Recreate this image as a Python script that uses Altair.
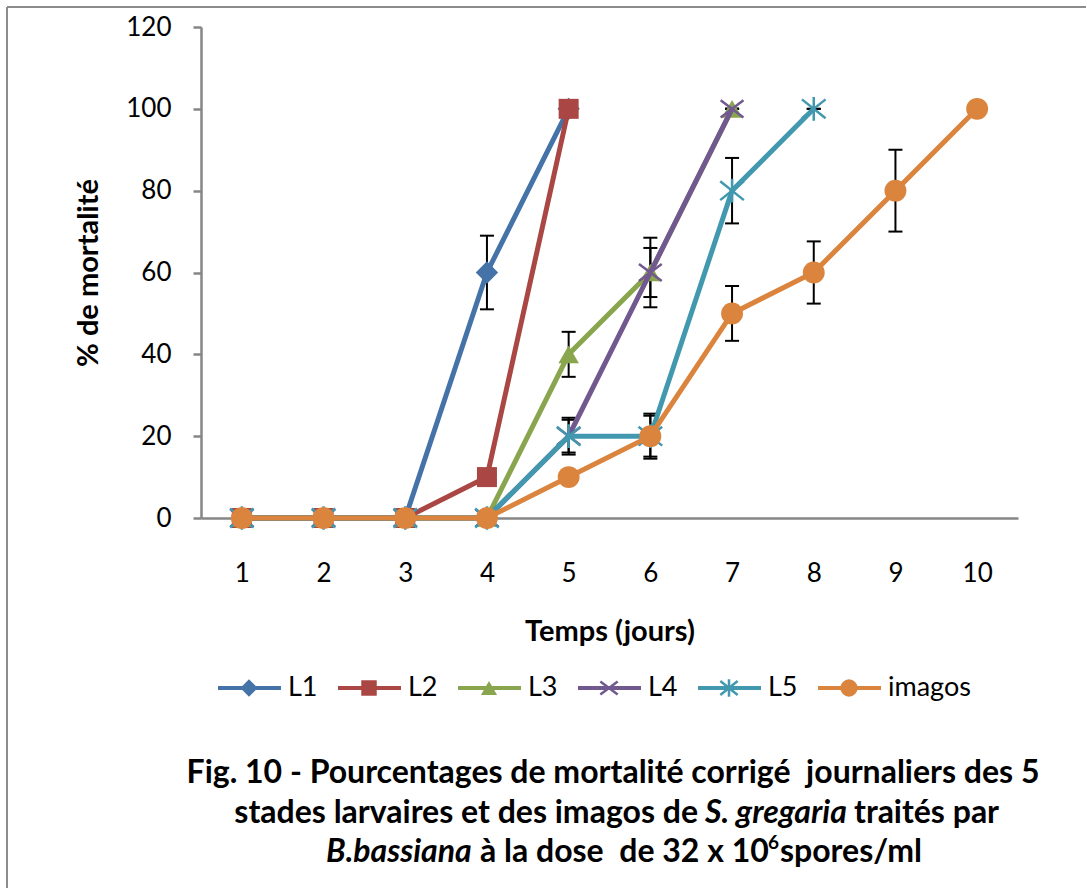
import altair as alt
import pandas as pd

# ---------------- data ----------------
days = [1, 2, 3, 4, 5, 6, 7, 8, 9, 10]
series_names = ["L1", "L2", "L3", "L4", "L5", "imagos"]

L1 = [0, 0, 0, 60, 100]
L2 = [0, 0, 0, 10, 100]
L3 = [0, 0, 0, 0, 40, 60, 100]
L4 = [0, 0, 0, 0, 20, 60, 100]
L5 = [0, 0, 0, 0, 20, 20, 80, 100]
imagos = [0, 0, 0, 0, 10, 20, 50, 60, 80, 100]

L1_err = [0, 0, 0, 9, 0]
L2_err = [0, 0, 0, 0, 0]
L3_err = [0, 0, 0, 0, 5.5, 6, 0]
L4_err = [0, 0, 0, 0, 4, 8.5, 0]
L5_err = [0, 0, 0, 0, 4.5, 5.5, 8, 0]
imagos_err = [0, 0, 0, 0, 0, 5, 6.7, 7.6, 10, 0]

y_ticks = [0, 20, 40, 60, 80, 100, 120]

x_title = "Temps (jours)"
y_title = "% de mortalité"
caption_line1 = "Fig. 10 - Pourcentages de mortalité corrigé \u00a0journaliers des 5"
caption_line2 = ["stades larvaires et des imagos de", "S. gregaria", "traités par"]
caption_line3 = ["B.bassiana", "à la dose \u00a0de 32 x 10", "6", "spores/ml"]

# ---------------- styles ----------------
colors = ["#4572A7", "#AA4643", "#89A54E", "#71588F", "#4198AF", "#DB843D"]
X_PATH = "M-1,-0.75L1,0.75M-1,0.75L1,-0.75"
AST_PATH = "M-1,-0.8L1,0.8M-1,0.8L1,-0.8M0,-1L0,1"
shapes = ["diamond", "square", "triangle-up", X_PATH, AST_PATH, "circle"]
sizes = [500, 400, 420, 520, 560, 480]
leg_sizes = [300, 240, 260, 300, 300, 300]
filled = [True, True, True, False, False, True]
FONT = "Lato"
AXIS_GRAY = "#868686"
CAP_SIZE = 32

values = {"L1": L1, "L2": L2, "L3": L3, "L4": L4, "L5": L5, "imagos": imagos}
errors = {"L1": L1_err, "L2": L2_err, "L3": L3_err, "L4": L4_err,
          "L5": L5_err, "imagos": imagos_err}

rows = []
for name in series_names:
    for d, v, e in zip(days, values[name], errors[name]):
        rows.append({"series": name, "day": d, "value": v, "lo": v - e, "hi": v + e})
df = pd.DataFrame(rows)

W, H = 817, 491

color_scale = alt.Scale(domain=series_names, range=colors)
x_scale = alt.Scale(domain=[0.5, 10.5], nice=False, zero=False)
y_scale = alt.Scale(domain=[0, 120], nice=False)

x_axis = alt.Axis(values=days, title=x_title, ticks=False, tickSize=0,
                  labelPadding=42, titlePadding=31, grid=False)
y_axis = alt.Axis(values=y_ticks, title=y_title, tickSize=8, labelPadding=22,
                  titlePadding=22, grid=False)

base = alt.Chart(df)

# error bars (drawn first, beneath the series)
err_stem = base.mark_rule(color="black", strokeWidth=2).encode(
    x=alt.X("day:Q", scale=x_scale, axis=x_axis),
    y=alt.Y("lo:Q", scale=y_scale, axis=y_axis),
    y2="hi:Q",
)
err_lo = base.mark_rule(color="black", strokeWidth=2, xOffset=-7, x2Offset=7).encode(
    x=alt.X("day:Q", scale=x_scale, axis=x_axis),
    x2="day:Q",
    y=alt.Y("lo:Q", scale=y_scale, axis=y_axis),
)
err_hi = base.mark_rule(color="black", strokeWidth=2, xOffset=-7, x2Offset=7).encode(
    x=alt.X("day:Q", scale=x_scale, axis=x_axis),
    x2="day:Q",
    y=alt.Y("hi:Q", scale=y_scale, axis=y_axis),
)

series_layers = []
for i, name in enumerate(series_names):
    sub = base.transform_filter(alt.datum.series == name)
    line = sub.mark_line(strokeWidth=5).encode(
        x=alt.X("day:Q", scale=x_scale, axis=x_axis),
        y=alt.Y("value:Q", scale=y_scale, axis=y_axis),
        color=alt.Color("series:N", scale=color_scale, legend=None),
    )
    if filled[i]:
        pt = sub.mark_point(filled=True, opacity=1, shape=shapes[i], size=sizes[i])
    else:
        pt = sub.mark_point(filled=False, opacity=1, shape=shapes[i], size=sizes[i],
                            strokeWidth=2.5)
    pts = pt.encode(
        x=alt.X("day:Q", scale=x_scale, axis=x_axis),
        y=alt.Y("value:Q", scale=y_scale, axis=y_axis),
        color=alt.Color("series:N", scale=color_scale, legend=None),
    )
    series_layers += [line, pts]

main = alt.layer(err_stem, err_lo, err_hi, *series_layers)

# ---------------- manual legend (Excel style: line + marker) ----------------
leg_df = pd.DataFrame({"series": series_names})
leg_x_scale = alt.Scale(type="point", domain=series_names, range=[17, 617], padding=0)
LEG_Y = 661
leg_base = alt.Chart(leg_df)
leg_lines = leg_base.mark_rule(strokeWidth=4, x2Offset=63).encode(
    x=alt.X("series:N", scale=leg_x_scale, axis=None),
    x2="series:N",
    y=alt.value(LEG_Y),
    color=alt.Color("series:N", scale=color_scale, legend=None),
)
leg_layers = [leg_lines]
for i, name in enumerate(series_names):
    sub = leg_base.transform_filter(alt.datum.series == name)
    if filled[i]:
        pt = sub.mark_point(filled=True, opacity=1, shape=shapes[i], size=leg_sizes[i],
                            xOffset=31)
    else:
        pt = sub.mark_point(filled=False, opacity=1, shape=shapes[i], size=leg_sizes[i],
                            strokeWidth=2.5, xOffset=31)
    leg_layers.append(pt.encode(
        x=alt.X("series:N", scale=leg_x_scale, axis=None),
        y=alt.value(LEG_Y),
        color=alt.Color("series:N", scale=color_scale, legend=None),
    ))
leg_text = leg_base.mark_text(align="left", baseline="middle", dx=70, font=FONT,
                              fontSize=27, color="black").encode(
    x=alt.X("series:N", scale=leg_x_scale, axis=None),
    y=alt.value(LEG_Y),
    text="series:N",
)
leg_layers.append(leg_text)
legend = alt.layer(*leg_layers)

# ---------------- caption ----------------
one = pd.DataFrame({"k": [0]})


def txt(s, x, y, align="left", italic=False, size=CAP_SIZE, dy=0):
    return alt.Chart(one).mark_text(
        text=s, align=align, baseline="middle", font=FONT, fontSize=size,
        fontWeight="bold", fontStyle="italic" if italic else "normal",
        color="black", dy=dy,
    ).encode(x=alt.value(x), y=alt.value(y))


cap = [
    txt(caption_line1, 412, 746, align="center"),
    txt(caption_line2[0], 497, 786, align="right"),
    txt(caption_line2[1], 504, 786, italic=True),
    txt(caption_line2[2], 653, 786),
    txt(caption_line3[0], 125, 825, italic=True),
    txt(caption_line3[1], 279, 825),
    txt(caption_line3[2], 567, 825, size=19, dy=-9),
    txt(caption_line3[3], 579, 825),
]

# ---------------- outer frame (top + left edges visible) ----------------
frame_top = alt.Chart(one).mark_rule(color="#8c8c8c", strokeWidth=2).encode(
    x=alt.value(-194), x2=alt.value(885), y=alt.value(-20))
frame_left = alt.Chart(one).mark_rule(color="#8c8c8c", strokeWidth=2).encode(
    x=alt.value(-194), y=alt.value(-20), y2=alt.value(861))

chart = alt.layer(main, legend, *cap, frame_top, frame_left).resolve_scale(
    x="independent"
).properties(
    width=W, height=H,
    padding={"left": 6, "top": 6, "right": 0, "bottom": 0},
    background="white",
).configure_view(stroke=None).configure_axis(
    domainColor=AXIS_GRAY, domainWidth=2.5, tickColor=AXIS_GRAY, tickWidth=2.5,
    labelFont=FONT, labelFontSize=26, labelColor="black",
    titleFont=FONT, titleFontSize=29, titleFontWeight="bold", titleColor="black",
)

chart.save("out.html", embed_options={"renderer": "svg", "actions": False})
